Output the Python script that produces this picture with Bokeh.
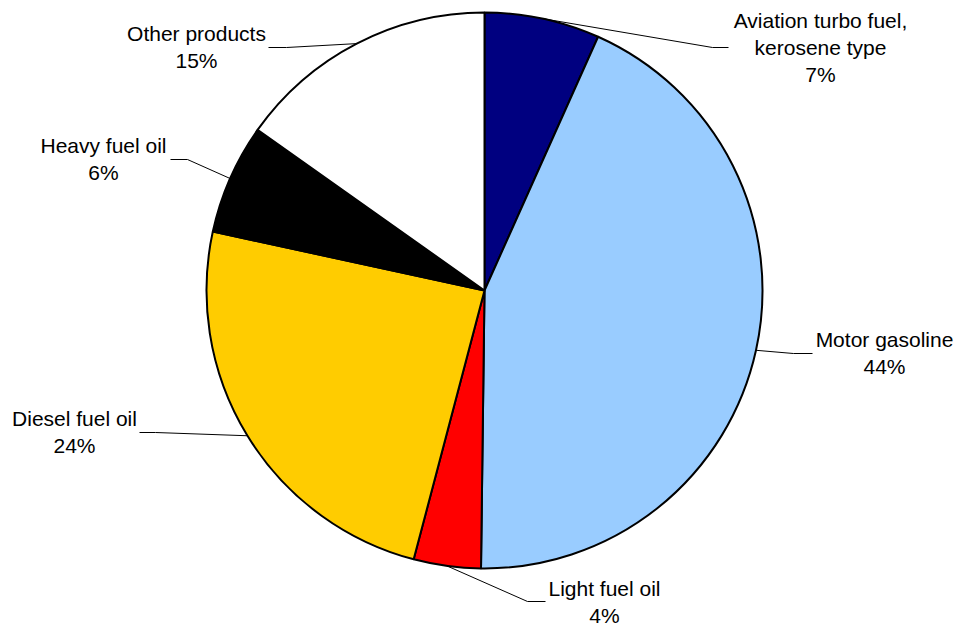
import math
from bokeh.plotting import figure
from bokeh.models import Range1d
from bokeh.core.properties import value
from bokeh.embed import file_html
from bokeh.resources import INLINE

# ---- data ----
categories = ["Aviation turbo fuel,\nkerosene type", "Motor gasoline", "Light fuel oil",
              "Diesel fuel oil", "Heavy fuel oil", "Other products"]
shares = [6.7, 43.5, 3.9, 24.3, 6.4, 15.2]
pct_labels = ["7%", "44%", "4%", "24%", "6%", "15%"]
colors = ["#000080", "#99CCFF", "#FF0000", "#FFCC00", "#000000", "#FFFFFF"]

# ---- layout (picture pixel coords) ----
W, H = 960, 628
CX, CY, R = 484, 290, 278
# elbow point and end of horizontal leader, label centre x, first line centre y
elbows = [(712, 47), (793, 353), (527, 601), (155, 432), (187, 159), (286, 47)]
ends_x = [728, 812, 545, 139, 170, 268]
label_x = [820, 884, 604, 74, 103, 196]
label_y = [20, 339, 588, 418, 145, 33]
LINE_H = 27

def px(x):
    return x

def py(y):
    return H - y

p = figure(width=W, height=H, output_backend="svg", toolbar_location=None,
           x_range=Range1d(0, W), y_range=Range1d(0, H), min_border=0)
p.axis.visible = False
p.grid.visible = False
p.outline_line_color = None
p.background_fill_color = "white"

total = sum(shares)
cum = 0.0
starts, stops, mids = [], [], []
for s in shares:
    a0 = cum / total
    cum += s
    a1 = cum / total
    starts.append(math.pi / 2 - 2 * math.pi * a0)
    stops.append(math.pi / 2 - 2 * math.pi * a1)
    mids.append((a0 + a1) / 2)

p.wedge(x=[px(CX)] * len(shares), y=[py(CY)] * len(shares), radius=R,
        start_angle=starts, end_angle=stops, direction="clock",
        fill_color=colors, line_color="black", line_width=2)

for i, m in enumerate(mids):
    ang = 2 * math.pi * m
    sx = CX + R * math.sin(ang)
    sy = CY - R * math.cos(ang)
    ex, ey = elbows[i]
    p.line([px(sx), px(ex), px(ends_x[i])], [py(sy), py(ey), py(ey)],
           line_color="black", line_width=1)
    lines = categories[i].split("\n") + [pct_labels[i]]
    for j, t in enumerate(lines):
        p.text(x=[px(label_x[i])], y=[py(label_y[i] + j * LINE_H)], text=[t],
               text_font=value("Liberation Sans"), text_font_size="21px",
               text_align="center", text_baseline="middle", text_color="black")

open("out.html", "w").write(file_html(p, INLINE))
